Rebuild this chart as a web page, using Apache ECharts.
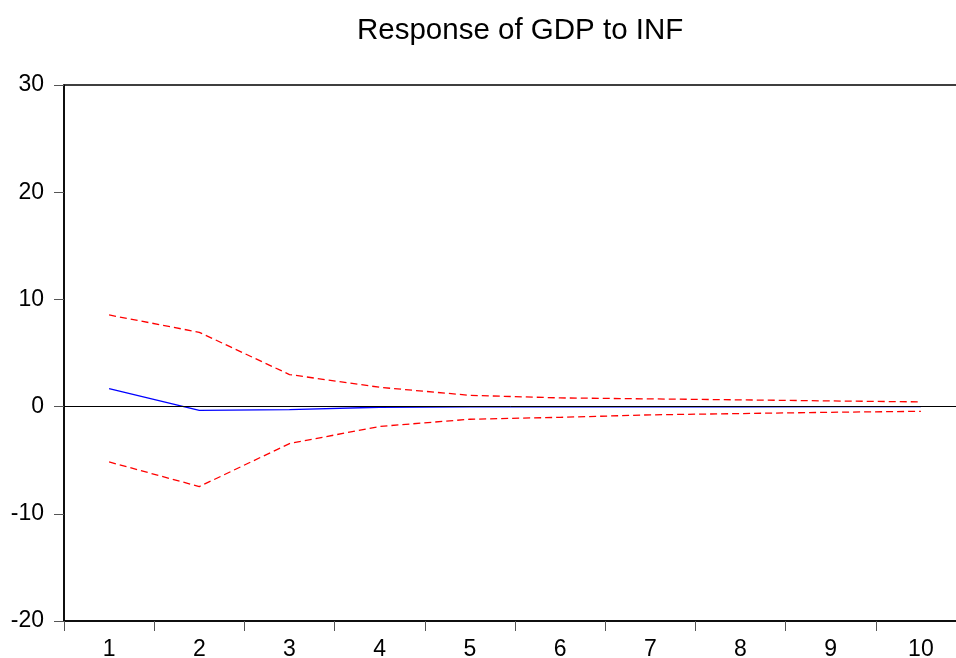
<!DOCTYPE html>
<html>
<head>
<meta charset="utf-8">
<script src="https://cdn.jsdelivr.net/npm/echarts@6/dist/echarts.min.js"></script>
<style>
html,body{margin:0;padding:0;background:#fff;}
#chart{width:956px;height:658px;}
</style>
</head>
<body>
<div id="chart"></div>
<script>
var categories = ['1','2','3','4','5','6','7','8','9','10'];
var response = [1.68, -0.35, -0.28, -0.06, -0.03, -0.02, -0.02, -0.02, -0.01, -0.01];
var upperBand = [8.55, 6.93, 2.99, 1.8, 1.05, 0.81, 0.72, 0.63, 0.53, 0.44];
var lowerBand = [-5.16, -7.46, -3.45, -1.85, -1.18, -1.0, -0.77, -0.65, -0.53, -0.44];
var yTicks = {min: -20, max: 30, interval: 10};

var chart = echarts.init(document.getElementById('chart'), null, {renderer: 'canvas'});
var font = '"Liberation Sans", Arial, sans-serif';
chart.setOption({
  animation: false,
  backgroundColor: '#fff',
  title: {
    text: 'Response of GDP to INF',
    left: 352, top: 11,
    textStyle: {fontFamily: font, fontSize: 29.5, fontWeight: 'normal', color: '#000'}
  },
  grid: {left: 64, top: 85, width: 902, height: 536, containLabel: false,
         outerBoundsMode: 'none',
         show: true, borderColor: '#000', borderWidth: 1.5, backgroundColor: '#fff'},
  xAxis: {
    type: 'category', data: categories, boundaryGap: true,
    axisLine: {onZero: false, lineStyle: {color: '#000', width: 1.5}},
    axisTick: {show: true, length: 10, inside: false, interval: 0, lineStyle: {color: '#555', width: 1}},
    axisLabel: {color: '#000', fontFamily: font, fontSize: 23, margin: 17, interval: 0},
    splitLine: {show: false}
  },
  yAxis: {
    type: 'value', min: yTicks.min, max: yTicks.max, interval: yTicks.interval,
    axisLine: {show: true, onZero: false, lineStyle: {color: '#000', width: 1.5}},
    axisTick: {show: true, length: 10, lineStyle: {color: '#555', width: 1}},
    axisLabel: {color: '#000', fontFamily: font, fontSize: 23, margin: 20},
    splitLine: {show: false}
  },
  series: [
    {
      name: 'upper', type: 'line', data: upperBand, symbol: 'none',
      lineStyle: {color: '#ff0000', width: 1.3, type: [7, 4]},
      markLine: {
        silent: true, symbol: 'none', label: {show: false},
        lineStyle: {color: '#000', width: 1, type: 'solid'},
        data: [{yAxis: 0}]
      }
    },
    {
      name: 'response', type: 'line', data: response, symbol: 'none',
      lineStyle: {color: '#0000ff', width: 1.3, type: 'solid'}
    },
    {
      name: 'lower', type: 'line', data: lowerBand, symbol: 'none',
      lineStyle: {color: '#ff0000', width: 1.3, type: [7, 4]}
    }
  ]
});
</script>
</body>
</html>
